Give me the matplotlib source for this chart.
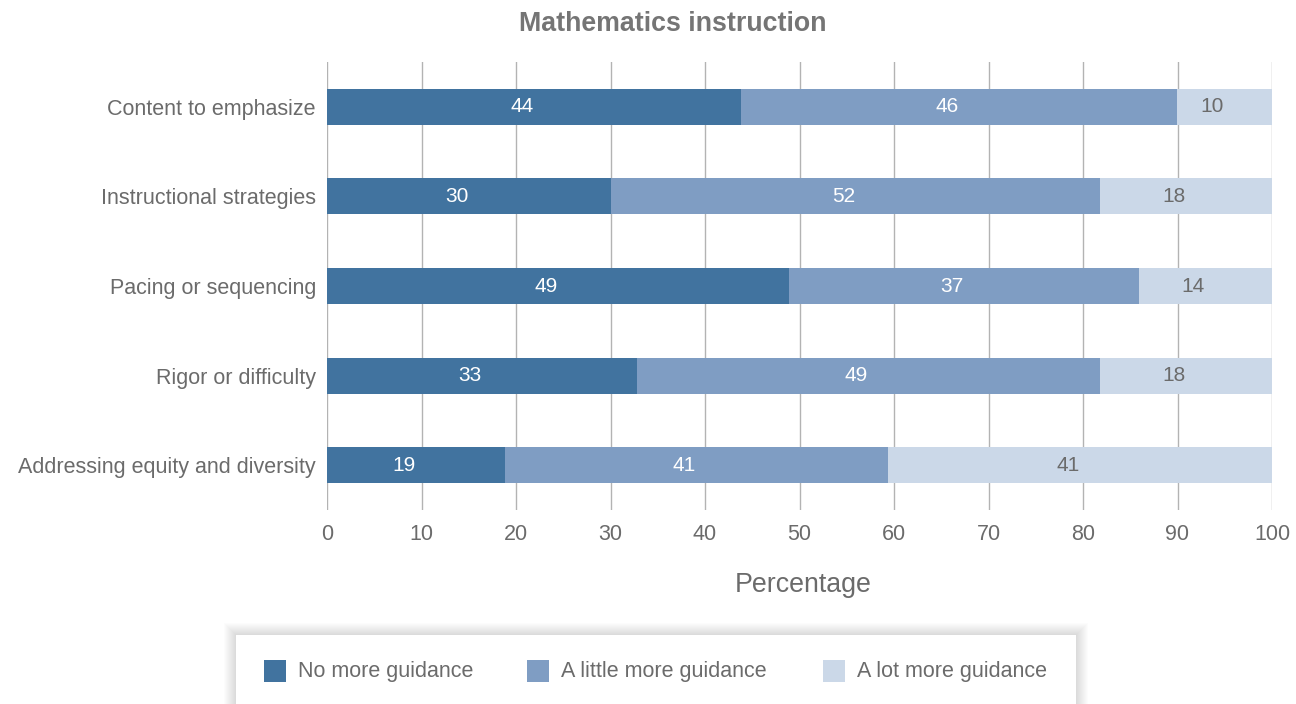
import matplotlib
matplotlib.use("Agg")
import matplotlib.pyplot as plt
from matplotlib.patches import Rectangle

plt.rcParams['font.family'] = ['Liberation Sans', 'DejaVu Sans']

categories = ["Content to emphasize", "Instructional strategies", "Pacing or sequencing",
              "Rigor or difficulty", "Addressing equity and diversity"]
no_more = [43.8, 30.0, 48.9, 32.8, 18.8]
little_more = [46.1, 51.8, 37.0, 49.0, 40.6]
lot_more = [10.1, 18.2, 14.1, 18.2, 40.6]
series_names = ["No more guidance", "A little more guidance", "A lot more guidance"]
colors = ["#41739f", "#7f9dc3", "#cbd8e8"]
label_colors = ["white", "white", "#6b6b6b"]
xticks = [0, 10, 20, 30, 40, 50, 60, 70, 80, 90, 100]

W, H = 1296, 704
fig = plt.figure(figsize=(W / 100, H / 100), dpi=100)
ax = fig.add_axes([327 / W, 1 - 510 / H, (1272 - 327) / W, (510 - 62) / H])

y = list(range(len(categories)))
left = [0] * len(categories)
for vals, col, lc in zip([no_more, little_more, lot_more], colors, label_colors):
    bars = ax.barh(y, vals, left=left, height=0.4, color=col, zorder=3)
    for b, v in zip(bars, vals):
        ax.annotate(f"{v:.0f}", (b.get_x() + b.get_width() / 2, b.get_y() + b.get_height() / 2),
                    xytext=(-12, 0), textcoords="offset pixels",
                    ha="center", va="center", color=lc, fontsize=15, zorder=4)
    left = [l + v for l, v in zip(left, vals)]

ax.set_xlim(0, 100)
ax.set_ylim(len(categories) - 0.5, -0.5)
ax.set_xticks(xticks)
ax.set_yticks(y)
ax.set_yticklabels(categories)
ax.grid(axis="x", color="#b3b3b3", linewidth=1, zorder=0)
for s in ax.spines.values():
    s.set_visible(False)
ax.tick_params(axis="y", length=0, pad=8, labelsize=15.5, labelcolor="#6b6b6b")
ax.tick_params(axis="x", length=0, pad=10, labelsize=15.5, labelcolor="#6b6b6b")

fig.text(803 / W, 1 - 585 / H, "Percentage", ha="center", va="center",
         fontsize=19.3, color="#6b6b6b")
fig.text(673 / W, 1 - 24 / H, "Mathematics instruction", ha="center", va="center",
         fontsize=19.3, fontweight="bold", color="#757575")

# legend box with soft shadow
bx0, by0, bx1, by1 = 236, 635, 1076, 712
for i in range(12, 0, -1):
    fig.patches.append(Rectangle(((bx0 - i) / W, 1 - (by1 + i) / H), (bx1 - bx0 + 2 * i) / W,
                                 (by1 - by0 + 2 * i) / H, transform=fig.transFigure,
                                 facecolor="black", alpha=0.012, edgecolor="none", zorder=1))
fig.patches.append(Rectangle((bx0 / W, 1 - by1 / H), (bx1 - bx0) / W, (by1 - by0) / H,
                             transform=fig.transFigure, facecolor="white", edgecolor="none", zorder=2))
leg_x = [264, 527, 823]
for name, col, lx in zip(series_names, colors, leg_x):
    fig.patches.append(Rectangle((lx / W, 1 - 682 / H), 22 / W, 22 / H, transform=fig.transFigure,
                                 facecolor=col, edgecolor="none", zorder=3))
    fig.text((lx + 34) / W, 1 - 671 / H, name, ha="left", va="center", fontsize=15.5,
             color="#6b6b6b", zorder=4)

fig.savefig("out.png", dpi=100)
